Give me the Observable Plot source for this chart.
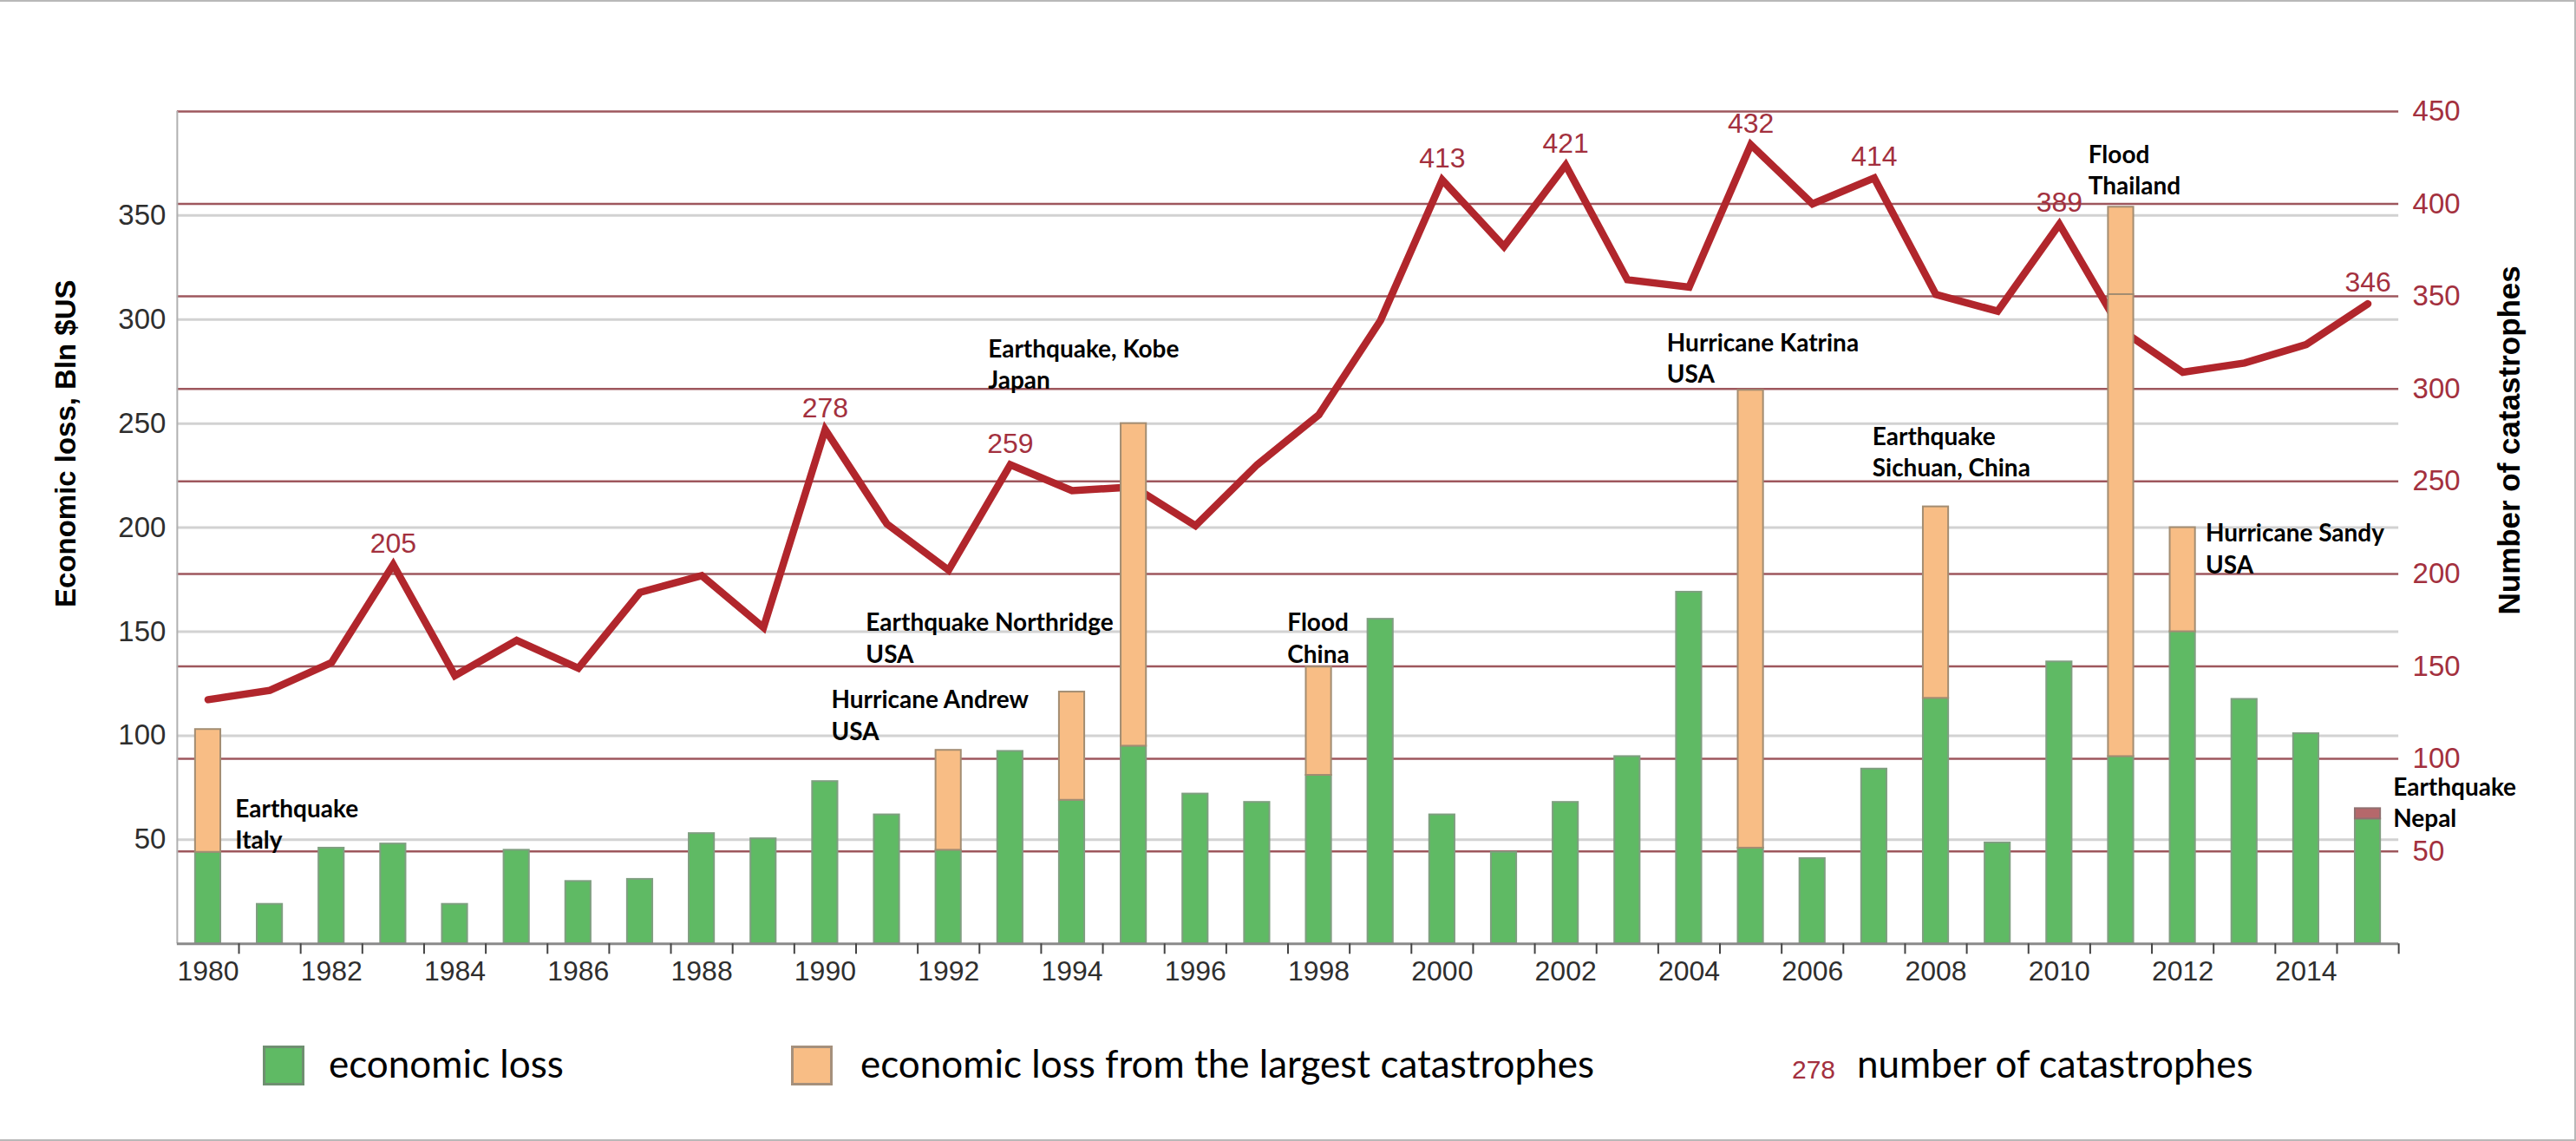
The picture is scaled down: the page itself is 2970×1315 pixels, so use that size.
<!DOCTYPE html>
<html>
<head>
<meta charset="utf-8">
<script src="https://cdn.jsdelivr.net/npm/d3@7"></script>
<script src="https://cdn.jsdelivr.net/npm/@observablehq/plot@0.6"></script>
<style>
  html, body { margin: 0; padding: 0; background: #fff; }
  #wrap { position: relative; width: 2970px; height: 1315px; box-sizing: border-box;
          border-top: 2px solid #b8b8b8; border-right: 2px solid #b8b8b8; border-bottom: 2px solid #b8b8b8; overflow: hidden; }
  #chart { position: absolute; left: 0; top: -2px; }
  .lg { position: absolute; top: 1199px; height: 48px; display: flex; align-items: center; white-space: nowrap; }
  .lgtext { font-family: Lato, "Noto Sans", sans-serif; font-size: 44px; color: #000; }
  .sw { width: 48px; height: 46px; box-sizing: border-box; border: 3px solid rgba(120,120,120,0.65); }
</style>
</head>
<body>
<div id="wrap">
  <div id="chart"></div>
  <div class="lg" style="left:303px;top:1202px"><div class="sw" style="background:#5fba64"></div></div>
  <div class="lg lgtext" style="left:379px">economic loss</div>
  <div class="lg" style="left:912px;top:1202px"><div class="sw" style="background:#f8bd85"></div></div>
  <div class="lg lgtext" style="left:992px">economic loss from the largest catastrophes</div>
  <div class="lg" style="left:2066px;font-family:'Liberation Sans',Arial,sans-serif;font-size:30px;color:#a3303e;padding-top:8px">278</div>
  <div class="lg lgtext" style="left:2141px">number of catastrophes</div>
</div>
<script>
// ---------- data ----------
const years = d3.range(1980, 2016);
const economicLoss = [44, 19, 46, 48, 19, 45, 30, 31, 53, 50.5,
                      78, 62, 45, 92.5, 69, 95, 72, 68, 81, 156,
                      62, 44, 68, 90, 169, 46, 41, 84, 118, 48.5,
                      135.5, 90, 150, 117.5, 101, 60];
const catastrophes = [132, 137, 152, 205, 145, 164, 149, 190, 199, 171,
                      278, 227, 202, 259, 245, 247, 226, 259, 286, 337,
                      413, 377, 421, 359, 355, 432, 400, 414, 351, 342,
                      389, 332, 309, 314, 324, 346];
// loss from the largest catastrophes (stacked on top of economic loss)
const largestYears = [1980, 1992, 1994, 1995, 1998, 2005, 2008, 2011, 2012];
const largestLoss  = [59, 48, 52, 155, 52, 220, 92, 222, 50];
// second catastrophe segment in 2011
const extraYears = [2011];
const extraLoss  = [42];
// Nepal earthquake segment 2015
const nepalYears = [2015];
const nepalLoss  = [5];
// labelled number of catastrophes
const labelledYears = [1983, 1990, 1993, 2000, 2002, 2005, 2007, 2010, 2015];
// tick values
const leftTicks  = [50, 100, 150, 200, 250, 300, 350];
const rightTicks = [50, 100, 150, 200, 250, 300, 350, 400, 450];
const yearLabels = d3.range(1980, 2015, 2);
const yearBounds = d3.range(1980.5, 2016, 1);
// annotations: text, anchor position (x in years, y in Bln $US)
const annotText = ["Earthquake\nItaly", "Hurricane Andrew\nUSA", "Earthquake Northridge\nUSA",
                   "Earthquake, Kobe\nJapan", "Flood\nChina", "Hurricane Katrina\nUSA",
                   "Earthquake\nSichuan, China", "Flood\nThailand", "Hurricane Sandy\nUSA", "Earthquake\nNepal"];
const annotX = [1980.44, 1990.1, 1990.66, 1992.64, 1997.49, 2003.64, 2006.97, 2010.47, 2012.37, 2015.41];
const annotY = [71.7, 124, 161, 292.5, 161, 295.6, 250.4, 386, 204, 82];

// ---------- derived tables ----------
const LEFT_MAX = 400, RIGHT_MAX = 450;
const toLeft = v => v * LEFT_MAX / RIGHT_MAX;
const HALF = 0.205;
const lossOf = Object.fromEntries(years.map((y, i) => [y, economicLoss[i]]));
const green = years.map((y, i) => ({year: y, y1: 0, y2: economicLoss[i]}));
const orange = largestYears.map((y, i) => ({year: y, y1: lossOf[y], y2: lossOf[y] + largestLoss[i]}));
const orange2 = extraYears.map((y, i) => {
  const base = lossOf[y] + largestLoss[largestYears.indexOf(y)];
  return {year: y, y1: base, y2: base + extraLoss[i]};
});
const nepal = nepalYears.map((y, i) => ({year: y, y1: lossOf[y], y2: lossOf[y] + nepalLoss[i]}));
const cat = years.map((y, i) => ({year: y, count: catastrophes[i]}));
const peaks = cat.filter(d => labelledYears.includes(d.year));
const annots = annotText.map((t, i) => ({text: t, x: annotX[i], y: annotY[i]}));

const barOpts = (fill, stroke) => ({
  x1: d => d.year - HALF, x2: d => d.year + HALF, y1: "y1", y2: "y2",
  fill, stroke, strokeWidth: 2
});

const H = 1150;
const chart = Plot.plot({
  width: 2970,
  height: H,
  marginLeft: 204,
  marginRight: 203,
  marginTop: 128,
  marginBottom: H - 1088,
  x: {type: "linear", domain: [1979.5, 2015.5]},
  y: {domain: [0, LEFT_MAX]},
  style: {fontFamily: "'Liberation Sans', Arial, sans-serif", background: "transparent", overflow: "visible"},
  marks: [
    Plot.gridY(leftTicks, {stroke: "#d2d2d2", strokeOpacity: 1, strokeWidth: 3}),
    Plot.gridY(rightTicks.map(toLeft), {stroke: "#94454b", strokeOpacity: 0.9, strokeWidth: 2.5}),
    Plot.ruleX([1979.5], {stroke: "#b0b0b0", strokeWidth: 2}),
    Plot.line(cat, {x: "year", y: d => toLeft(d.count), stroke: "#b1262c", strokeWidth: 8.5,
                    strokeLinejoin: "miter", strokeMiterlimit: 3}),
    Plot.rectY(green, barOpts("#5fba64", "#7f9f80")),
    Plot.rectY(orange, barOpts("#f8bd85", "#a38d72")),
    Plot.rectY(orange2, barOpts("#f8bd85", "#a38d72")),
    Plot.rectY(nepal, barOpts("#b5686b", "#8f7070")),
    Plot.ruleY([0], {stroke: "#8a8a8a", strokeWidth: 3}),
    Plot.axisX(yearBounds, {tickSize: 12, tickFormat: () => "", stroke: "#444", strokeWidth: 2, label: null}),
    Plot.axisX(yearLabels, {tickSize: 0, tickPadding: 20, tickFormat: "d", fontSize: 32, fill: "#2e2e2e", label: null}),
    Plot.axisY(leftTicks, {tickSize: 0, tickPadding: 13, fontSize: 33, fill: "#2e2e2e", label: null}),
    Plot.axisY(rightTicks.map(toLeft), {anchor: "right", tickSize: 0, tickPadding: 16, fontSize: 33,
                                        fill: "#a3303e", tickFormat: d => Math.round(d * RIGHT_MAX / LEFT_MAX), label: null}),
    Plot.text(peaks, {x: "year", y: d => toLeft(d.count), text: d => String(d.count), dy: -14,
                      lineAnchor: "bottom", fill: "#a3303e", fontSize: 32}),
    Plot.text(annots, {x: "x", y: "y", text: "text", textAnchor: "start", lineAnchor: "top", lineHeight: 1.3,
                       fontFamily: "Lato, 'Noto Sans', sans-serif", fontWeight: 700, fontSize: 28, fill: "#000",
                       ariaLabel: "annotation"}),
    Plot.text(["Economic loss, Bln $US"], {x: 1979.5, y: 240.4, text: d => d, rotate: -90, dx: -128,
                      fontWeight: "bold", fontSize: 33, fill: "#000"}),
    Plot.text(["Number of catastrophes"], {x: 2015.5, y: 242, text: d => d, rotate: -90, dx: 128,
                      fontWeight: "bold", fontSize: 35, fill: "#000"})
  ]
});
document.getElementById("chart").appendChild(chart);

// white boxes behind annotation labels (as in the reference)
const NS = "http://www.w3.org/2000/svg";
chart.querySelectorAll('g[aria-label="annotation"] text').forEach(t => {
  const b = t.getBBox();
  const r = document.createElementNS(NS, "rect");
  r.setAttribute("x", b.x - 5);
  r.setAttribute("y", b.y + 2);
  r.setAttribute("width", b.width + 10);
  r.setAttribute("height", b.height - 4);
  r.setAttribute("fill", "#fff");
  const tr = t.getAttribute("transform");
  if (tr) r.setAttribute("transform", tr);
  t.parentNode.insertBefore(r, t);
});
</script>
</body>
</html>
